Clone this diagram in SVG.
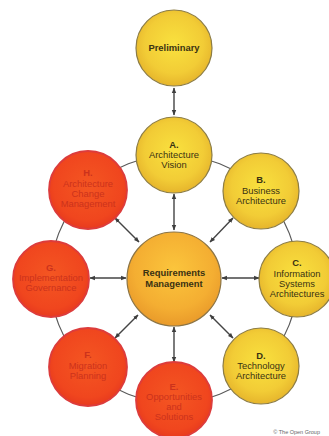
<svg xmlns="http://www.w3.org/2000/svg" width="329" height="436" viewBox="0 0 329 436">
<defs>
<radialGradient id="gy" cx="50%" cy="45%" r="55%">
<stop offset="0" stop-color="#f9e13e"/>
<stop offset="0.7" stop-color="#f2cc36"/>
<stop offset="1" stop-color="#e6b52c"/>
</radialGradient>
<radialGradient id="go" cx="50%" cy="40%" r="60%">
<stop offset="0" stop-color="#fbc53c"/>
<stop offset="0.7" stop-color="#f4ae32"/>
<stop offset="1" stop-color="#e99a2a"/>
</radialGradient>
<radialGradient id="gr" cx="50%" cy="45%" r="55%">
<stop offset="0" stop-color="#f45622"/>
<stop offset="0.8" stop-color="#f0461e"/>
<stop offset="1" stop-color="#e83a1e"/>
</radialGradient>
<marker id="ah" viewBox="0 0 10 10" refX="9" refY="5" markerWidth="5.5" markerHeight="5.5" orient="auto-start-reverse" markerUnits="userSpaceOnUse">
<path d="M0,1 L10,5 L0,9 z" fill="#3e3e3e"/>
</marker>
<style>
.y{fill:url(#gy);stroke:#8c7c44;stroke-width:1.2}
.o{fill:url(#go);stroke:#8c7444;stroke-width:1.2}
.r{fill:url(#gr);stroke:#dc3c3c;stroke-width:1.8}
.t{font-family:"Liberation Sans",Arial,sans-serif;font-size:9.4px;text-anchor:middle;fill:#3a3212}
.rt{fill:#cc321c}
.b{font-weight:bold}
.ar{stroke:#444444;stroke-width:1.4;fill:none;marker-start:url(#ah);marker-end:url(#ah)}
</style>
</defs>
<rect width="329" height="436" fill="#ffffff"/>
<g id="connectors">
<circle cx="174" cy="279" r="124" fill="none" stroke="#5a5a5a" stroke-width="1.2"/>
<line class="ar" x1="174" y1="88" x2="174" y2="115"/>
<line class="ar" x1="174" y1="194" x2="174" y2="230"/>
<line class="ar" x1="233" y1="218" x2="210" y2="242"/>
<line class="ar" x1="115" y1="218" x2="139" y2="242"/>
<line class="ar" x1="90" y1="278" x2="126" y2="278"/>
<line class="ar" x1="222" y1="278" x2="259" y2="278"/>
<line class="ar" x1="210" y1="315" x2="233" y2="338"/>
<line class="ar" x1="138" y1="315" x2="115" y2="338"/>
<line class="ar" x1="174" y1="327" x2="174" y2="362"/>
</g>
<g id="preliminary">
<circle class="y" cx="174" cy="48" r="38"/>
<text class="t b" x="174" y="51">Preliminary</text>
</g>
<g id="A">
<circle class="y" cx="174" cy="155" r="38"/>
<text class="t b" x="174" y="148">A.</text>
<text class="t" x="174" y="158">Architecture</text>
<text class="t" x="174" y="168">Vision</text>
</g>
<g id="B">
<circle class="y" cx="261" cy="191" r="38"/>
<text class="t b" x="261" y="183">B.</text>
<text class="t" x="261" y="194">Business</text>
<text class="t" x="261" y="204">Architecture</text>
</g>
<g id="C">
<circle class="y" cx="297" cy="279" r="38"/>
<text class="t b" x="297" y="266">C.</text>
<text class="t" x="297" y="277">Information</text>
<text class="t" x="297" y="287">Systems</text>
<text class="t" x="297" y="297">Architectures</text>
</g>
<g id="D">
<circle class="y" cx="261" cy="366" r="38"/>
<text class="t b" x="261" y="359">D.</text>
<text class="t" x="261" y="369">Technology</text>
<text class="t" x="261" y="379">Architecture</text>
</g>
<g id="E">
<circle class="r" cx="174" cy="400" r="38"/>
<text class="t rt b" x="174" y="390">E.</text>
<text class="t rt" x="174" y="400">Opportunities</text>
<text class="t rt" x="174" y="410">and</text>
<text class="t rt" x="174" y="420">Solutions</text>
</g>
<g id="F">
<circle class="r" cx="88" cy="367" r="39"/>
<text class="t rt b" x="88" y="358">F.</text>
<text class="t rt" x="88" y="369">Migration</text>
<text class="t rt" x="88" y="379">Planning</text>
</g>
<g id="G">
<circle class="r" cx="51" cy="279" r="38"/>
<text class="t rt b" x="51" y="271">G.</text>
<text class="t rt" x="51" y="281">Implementation</text>
<text class="t rt" x="51" y="291">Governance</text>
</g>
<g id="H">
<circle class="r" cx="88" cy="190" r="39"/>
<text class="t rt b" x="88" y="176">H.</text>
<text class="t rt" x="88" y="187">Architecture</text>
<text class="t rt" x="88" y="197">Change</text>
<text class="t rt" x="88" y="207">Management</text>
</g>
<g id="requirements">
<circle class="o" cx="174" cy="279" r="47"/>
<text class="t b" x="174" y="276">Requirements</text>
<text class="t b" x="174" y="287">Management</text>
</g>
<text x="320" y="434" font-family="'Liberation Sans',Arial,sans-serif" font-size="5.5" fill="#666" text-anchor="end">© The Open Group</text>
</svg>
